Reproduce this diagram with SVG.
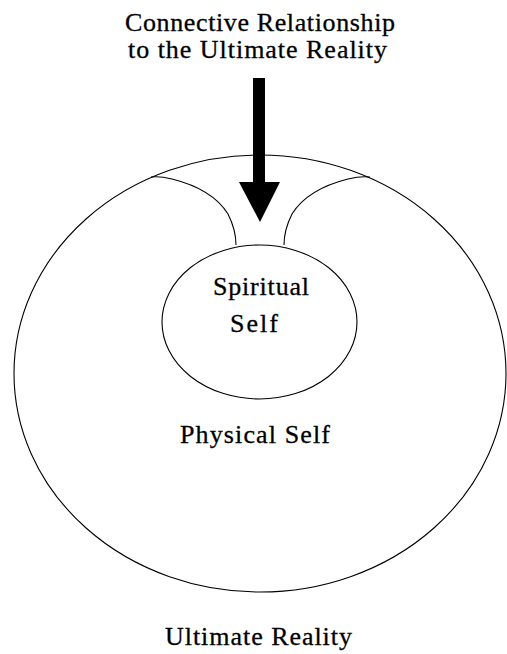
<svg xmlns="http://www.w3.org/2000/svg" width="507" height="654" viewBox="0 0 507 654">
<style>
.t{font-family:"Liberation Serif","Times New Roman",serif;font-size:26px;fill:#000;stroke:#000;stroke-width:0.3;text-anchor:start}
.ln{fill:none;stroke:#000;stroke-width:1.1}
</style>
<rect width="507" height="654" fill="#fff"/>
<g id="ultimate-reality">
<ellipse class="ln" cx="260" cy="373.5" rx="246" ry="218.5"/>
<text class="t" x="165" y="645" textLength="187" lengthAdjust="spacing">Ultimate Reality</text>
</g>
<g id="connective-channel">
<path class="ln" d="M151,177 C158,176 164,177 172,179 C200,186 218,198 228,214 C234,226 236,236 236,245"/>
<path class="ln" d="M370,177 C362,176 356,177 348,179 C320,186 302,198 292,214 C286,226 284,236 284,245"/>
</g>
<g id="physical-self">
<text class="t" x="180" y="443" textLength="150" lengthAdjust="spacing">Physical Self</text>
</g>
<g id="spiritual-self">
<ellipse class="ln" cx="259.5" cy="322" rx="97.5" ry="77" fill="#fff"/>
<text class="t" x="213" y="295" textLength="96" lengthAdjust="spacing">Spiritual</text>
<text class="t" x="230" y="332" textLength="48" lengthAdjust="spacing">Self</text>
</g>
<g id="connective-relationship">
<text class="t" x="125" y="31" textLength="270" lengthAdjust="spacing">Connective Relationship</text>
<text class="t" x="128" y="58" textLength="259" lengthAdjust="spacing">to the Ultimate Reality</text>
</g>
<g id="connectors">
<polygon points="253,78 265,78 265,182 280,182 260,222 239,182 253,182" fill="#000"/>
</g>
</svg>
